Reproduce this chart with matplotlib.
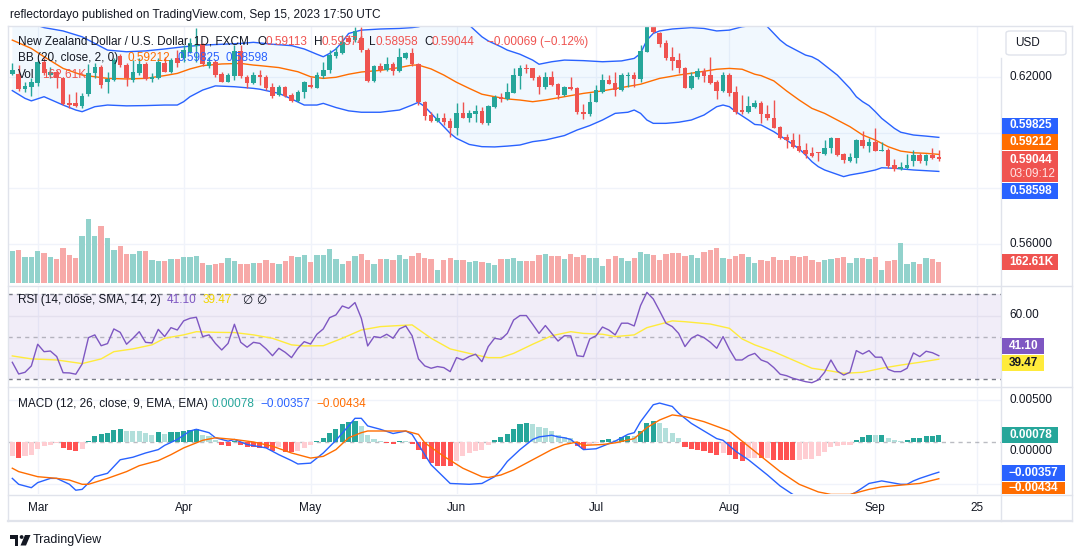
import numpy as np
import matplotlib
matplotlib.use("Agg")
import matplotlib.pyplot as plt
from matplotlib.patches import Rectangle, Ellipse, Polygon, FancyBboxPatch
from matplotlib.lines import Line2D

plt.rcParams['font.family'] = ['Liberation Sans', 'DejaVu Sans']

W, H = 1080, 557

# ---------------- data (NZD/USD daily, FXCM, 23 Feb - 15 Sep 2023) ----------------
opens = [0.62096, 0.62096, 0.61556, 0.61652, 0.61772, 0.62553, 0.62072, 0.62192, 0.61952, 0.61075,
         0.61075, 0.60955, 0.61375, 0.62132, 0.62349, 0.61832, 0.61892, 0.62769, 0.62433, 0.61892,
         0.62132, 0.62457, 0.61928, 0.61952, 0.62493, 0.62192, 0.62673, 0.62673, 0.62913, 0.63117,
         0.63177, 0.62409, 0.62553, 0.62096, 0.61832, 0.62048, 0.62937, 0.62012, 0.61772, 0.62072,
         0.62012, 0.61652, 0.61351, 0.61652, 0.61351, 0.61135, 0.61472, 0.61712, 0.61616, 0.62048,
         0.62252, 0.62769, 0.62853, 0.63394, 0.63333, 0.63394, 0.62973, 0.61856, 0.62396, 0.62252,
         0.62457, 0.62228, 0.62673, 0.62853, 0.62457, 0.61111, 0.60631, 0.60427, 0.60511, 0.60415,
         0.60150, 0.60691, 0.60535, 0.60679, 0.60775, 0.60331, 0.60931, 0.61291, 0.61207, 0.61436,
         0.62048, 0.62336, 0.62312, 0.62012, 0.61652, 0.62012, 0.61736, 0.61351, 0.61652, 0.61616,
         0.60727, 0.60655, 0.61111, 0.61472, 0.61892, 0.61772, 0.61532, 0.62036, 0.62072, 0.61928,
         0.62913, 0.63934, 0.63574, 0.63213, 0.62733, 0.62613, 0.62336, 0.61616, 0.62012, 0.62216,
         0.62072, 0.61832, 0.61496, 0.62072, 0.61472, 0.60811, 0.60727, 0.60931, 0.61075, 0.60667,
         0.60535, 0.60210, 0.59850, 0.59730, 0.59514, 0.59370, 0.59273, 0.59309, 0.59225, 0.59430,
         0.59790, 0.59225, 0.58973, 0.59093, 0.59730, 0.59526, 0.59670, 0.59346, 0.59370, 0.58829,
         0.58685, 0.58733, 0.58973, 0.59189, 0.58973, 0.59189, 0.59113]
highs = [0.62493, 0.62433, 0.61832, 0.61952, 0.62613, 0.62673, 0.62372, 0.62252, 0.61976, 0.61375,
         0.61472, 0.61412, 0.62457, 0.62493, 0.62433, 0.62192, 0.62673, 0.62817, 0.62493, 0.62613,
         0.62673, 0.62553, 0.62132, 0.62673, 0.62733, 0.62673, 0.62973, 0.63153, 0.63394, 0.63754,
         0.63213, 0.62733, 0.62613, 0.62192, 0.62132, 0.63153, 0.63153, 0.62072, 0.62192, 0.62252,
         0.62072, 0.61772, 0.61712, 0.61676, 0.61412, 0.61532, 0.61856, 0.62012, 0.62192, 0.62553,
         0.62973, 0.63093, 0.63514, 0.63514, 0.63814, 0.63814, 0.63033, 0.62433, 0.62493, 0.62733,
         0.62553, 0.63033, 0.62913, 0.63033, 0.62493, 0.61135, 0.60727, 0.60691, 0.60691, 0.60511,
         0.61051, 0.61087, 0.60811, 0.60991, 0.60931, 0.60991, 0.61351, 0.61412, 0.61772, 0.62312,
         0.62433, 0.62457, 0.62336, 0.62072, 0.62192, 0.62216, 0.61772, 0.61688, 0.62012, 0.61652,
         0.61015, 0.61412, 0.61712, 0.62096, 0.62072, 0.62192, 0.62132, 0.62192, 0.62192, 0.63153,
         0.64054, 0.64054, 0.63634, 0.63333, 0.63093, 0.62853, 0.62372, 0.62192, 0.62312, 0.62312,
         0.62733, 0.61892, 0.62192, 0.62132, 0.61676, 0.61351, 0.61327, 0.61171, 0.61135, 0.60991,
         0.61171, 0.60234, 0.59934, 0.59994, 0.59946, 0.59610, 0.59466, 0.59309, 0.59730, 0.59826,
         0.59814, 0.59249, 0.59249, 0.59766, 0.60054, 0.59790, 0.60174, 0.59670, 0.59430, 0.59033,
         0.58949, 0.59213, 0.59370, 0.59249, 0.59213, 0.59430, 0.59374]
lows = [0.62072, 0.61508, 0.61472, 0.61315, 0.61676, 0.62072, 0.61952, 0.61592, 0.60991, 0.60871,
        0.60931, 0.60871, 0.61327, 0.61952, 0.61592, 0.61412, 0.61856, 0.62372, 0.61688, 0.61832,
        0.62072, 0.61892, 0.61832, 0.61928, 0.62168, 0.62132, 0.62372, 0.62553, 0.62853, 0.62553,
        0.62409, 0.62312, 0.62012, 0.61808, 0.61808, 0.61892, 0.61952, 0.61592, 0.61736, 0.61712,
        0.61532, 0.61255, 0.61327, 0.61291, 0.61087, 0.61111, 0.61255, 0.61592, 0.61592, 0.61952,
        0.62132, 0.62673, 0.62817, 0.63213, 0.63273, 0.62913, 0.61808, 0.61832, 0.62192, 0.62228,
        0.62072, 0.62192, 0.62649, 0.62409, 0.60991, 0.60451, 0.60367, 0.60391, 0.60270, 0.59850,
        0.59910, 0.60511, 0.60391, 0.60391, 0.60294, 0.60270, 0.60871, 0.61111, 0.61171, 0.61412,
        0.61556, 0.62132, 0.61892, 0.61375, 0.61556, 0.61688, 0.61207, 0.61327, 0.61532, 0.60655,
        0.60487, 0.60607, 0.61087, 0.61412, 0.61736, 0.61327, 0.61508, 0.61652, 0.61652, 0.61832,
        0.62889, 0.63574, 0.63093, 0.62613, 0.62252, 0.62132, 0.61592, 0.61568, 0.61928, 0.61832,
        0.61736, 0.61207, 0.61472, 0.61327, 0.60655, 0.60655, 0.60691, 0.60871, 0.60354, 0.60451,
        0.60174, 0.59766, 0.59454, 0.59429, 0.59309, 0.59093, 0.59105, 0.58973, 0.59189, 0.59249,
        0.59165, 0.58889, 0.58949, 0.58889, 0.59430, 0.59309, 0.59334, 0.59334, 0.58709, 0.58625,
        0.58649, 0.58685, 0.58793, 0.58913, 0.58829, 0.59033, 0.58958]
closes = [0.62252, 0.61556, 0.61676, 0.61808, 0.62553, 0.62156, 0.62192, 0.61952, 0.61027, 0.60991,
          0.60967, 0.61315, 0.62156, 0.62349, 0.61712, 0.61928, 0.62613, 0.62433, 0.61952, 0.62192,
          0.62457, 0.61928, 0.62012, 0.62529, 0.62192, 0.62613, 0.62493, 0.62973, 0.63213, 0.63153,
          0.62457, 0.62553, 0.62072, 0.61832, 0.62072, 0.62937, 0.62048, 0.61772, 0.62072, 0.61988,
          0.61616, 0.61327, 0.61652, 0.61327, 0.61135, 0.61472, 0.61808, 0.61628, 0.62072, 0.62252,
          0.62793, 0.62913, 0.63273, 0.63273, 0.63658, 0.62973, 0.61856, 0.62396, 0.62252, 0.62457,
          0.62228, 0.62709, 0.62853, 0.62457, 0.61087, 0.60607, 0.60415, 0.60511, 0.60391, 0.60150,
          0.60691, 0.60535, 0.60691, 0.60775, 0.60331, 0.60955, 0.61291, 0.61207, 0.61472, 0.62072,
          0.62336, 0.62276, 0.61976, 0.61652, 0.62012, 0.61712, 0.61351, 0.61652, 0.61568, 0.60727,
          0.60679, 0.61111, 0.61529, 0.61892, 0.61748, 0.61532, 0.62072, 0.62072, 0.61928, 0.62937,
          0.63934, 0.63634, 0.63177, 0.62697, 0.62577, 0.62312, 0.61616, 0.62048, 0.62216, 0.62048,
          0.61772, 0.61496, 0.62072, 0.61412, 0.60727, 0.60751, 0.60955, 0.61075, 0.60655, 0.60511,
          0.60174, 0.59790, 0.59730, 0.59490, 0.59346, 0.59225, 0.59165, 0.59249, 0.59430, 0.59790,
          0.59189, 0.59009, 0.59105, 0.59730, 0.59526, 0.59670, 0.59346, 0.59370, 0.58805, 0.58685,
          0.58745, 0.58829, 0.59189, 0.58973, 0.59189, 0.59093, 0.59044]
volume_k = [250, 258, 204, 204, 250, 235, 204, 188, 273, 219,
            196, 366, 498, 366, 444, 351, 258, 289, 227, 227,
            245, 245, 181, 173, 173, 188, 188, 204, 204, 212,
            157, 142, 150, 157, 196, 173, 150, 150, 157, 157,
            181, 157, 150, 173, 212, 204, 219, 165, 219, 219,
            266, 188, 150, 173, 212, 227, 181, 150, 188, 188,
            181, 219, 188, 212, 235, 196, 188, 103, 181, 196,
            181, 181, 165, 173, 165, 157, 142, 188, 188, 196,
            173, 173, 173, 219, 227, 212, 212, 188, 227, 204,
            219, 196, 196, 134, 188, 212, 196, 173, 196, 243,
            227, 219, 181, 227, 235, 235, 212, 219, 196, 243,
            258, 273, 196, 188, 212, 227, 204, 157, 181, 173,
            204, 181, 181, 212, 204, 212, 181, 165, 181, 188,
            196, 204, 157, 196, 196, 188, 204, 103, 173, 181,
            312, 150, 165, 150, 196, 188, 162.61]

# Bollinger Bands (20, 2) at these bars
bb_upper_x = [0, 3, 5, 8, 11, 13, 15, 18, 21, 24, 27, 30, 33, 36, 38, 41, 44, 46, 48, 49,
              50, 51, 52, 53, 55, 58, 61, 63, 64, 66, 68, 70, 72, 74, 75, 77, 78, 80, 82, 83,
              85, 87, 90, 93, 96, 98, 99, 100, 101, 102, 104, 107, 109, 111, 113, 115, 117, 118, 119, 121,
              122, 124, 125, 126, 127, 128, 130, 131, 132, 133, 134, 135, 136, 137, 138, 139, 140, 141, 142, 144, 146]
bb_upper = [0.6411, 0.6393, 0.6378, 0.6366, 0.6345, 0.6321, 0.6297, 0.6291, 0.6294, 0.6301,
            0.6309, 0.6315, 0.6318, 0.6321, 0.6325, 0.6318, 0.6313, 0.6301, 0.6282, 0.6273,
            0.6285, 0.6301, 0.6327, 0.6357, 0.6369, 0.6373, 0.6375, 0.6378, 0.6381, 0.6393,
            0.6399, 0.6393, 0.6387, 0.6345, 0.6330, 0.6309, 0.6297, 0.6282, 0.6261, 0.6246,
            0.6255, 0.6261, 0.6259, 0.6255, 0.6258, 0.6267, 0.6285, 0.6333, 0.6357, 0.6366,
            0.6373, 0.6378, 0.6375, 0.6366, 0.6369, 0.6381, 0.6387, 0.6399, 0.6381, 0.6333,
            0.6315, 0.6291, 0.6279, 0.6273, 0.6261, 0.6243, 0.6207, 0.6183, 0.6159, 0.6129,
            0.6111, 0.6097, 0.6075, 0.6051, 0.6033, 0.6015, 0.6001, 0.5996, 0.5991, 0.5987, 0.59825]
bb_mid_x = [0, 3, 5, 8, 11, 13, 15, 18, 21, 24, 26, 28, 30, 33, 36, 38, 39, 42, 45, 47,
            49, 51, 53, 55, 58, 61, 63, 64, 66, 68, 70, 72, 74, 76, 78, 80, 82, 84, 87, 90,
            93, 96, 99, 102, 105, 108, 111, 113, 115, 117, 118, 120, 122, 124, 126, 128, 130, 132, 134, 136,
            138, 140, 142, 144, 146]
bb_mid = [0.6333, 0.6303, 0.6273, 0.6231, 0.6207, 0.6201, 0.6195, 0.6193, 0.6195, 0.6205,
          0.6213, 0.6229, 0.6241, 0.6247, 0.6249, 0.6243, 0.6241, 0.6234, 0.6219, 0.6201,
          0.6195, 0.6199, 0.6210, 0.6218, 0.6224, 0.6234, 0.6243, 0.6243, 0.6229, 0.6207,
          0.6181, 0.6159, 0.6138, 0.6129, 0.6121, 0.6117, 0.6111, 0.6117, 0.6129, 0.6141,
          0.6150, 0.6162, 0.6174, 0.6195, 0.6207, 0.6217, 0.6228, 0.6231, 0.6228, 0.6210,
          0.6205, 0.6186, 0.6150, 0.6117, 0.6087, 0.6069, 0.6045, 0.6021, 0.5991, 0.5973,
          0.5949, 0.5933, 0.5927, 0.5925, 0.59212]
bb_lower_x = [0, 2, 3, 5, 8, 10, 11, 13, 15, 18, 21, 24, 26, 27, 28, 30, 32, 35, 38, 39,
              42, 44, 46, 48, 49, 51, 53, 55, 58, 61, 63, 64, 65, 66, 67, 68, 69, 70, 72, 74,
              76, 78, 80, 82, 84, 87, 89, 91, 93, 95, 97, 98, 99, 100, 101, 103, 105, 107, 109, 111,
              112, 113, 114, 116, 117, 118, 120, 122, 124, 125, 126, 127, 128, 130, 131, 132, 134, 136, 137, 139,
              142, 146]
bb_lower = [0.6151, 0.6123, 0.6114, 0.6129, 0.6099, 0.6081, 0.6075, 0.6093, 0.6099, 0.6096,
            0.6097, 0.6099, 0.6099, 0.6111, 0.6129, 0.6153, 0.6168, 0.6165, 0.6159, 0.6156,
            0.6141, 0.6121, 0.6099, 0.6099, 0.6105, 0.6090, 0.6078, 0.6073, 0.6073, 0.6081,
            0.6099, 0.6109, 0.6093, 0.6069, 0.6045, 0.6021, 0.5997, 0.5979, 0.5957, 0.5949,
            0.5948, 0.5951, 0.5955, 0.5967, 0.5973, 0.5989, 0.6009, 0.6025, 0.6045, 0.6069,
            0.6073, 0.6081, 0.6069, 0.6045, 0.6033, 0.6033, 0.6037, 0.6045, 0.6063, 0.6093,
            0.6099, 0.6093, 0.6075, 0.6045, 0.6029, 0.6027, 0.6003, 0.5973, 0.5941, 0.5919,
            0.5895, 0.5877, 0.5865, 0.5849, 0.5841, 0.5847, 0.5855, 0.5865, 0.5873, 0.5871,
            0.5865, 0.58598]

# RSI (14) per bar and its 14-period SMA
rsi = [38.0, 32.5, 33.3, 36.3, 46.5, 43.0, 43.3, 40.7, 33.1, 33.0,
       32.4, 37.2, 49.6, 50.9, 45.8, 46.8, 53.7, 52.1, 46.5, 49.3,
       52.4, 47.4, 47.1, 53.5, 50.1, 54.3, 53.2, 57.5, 58.7, 59.2,
       50.1, 50.9, 46.9, 43.8, 46.9, 55.9, 47.4, 45.1, 47.4, 46.9,
       44.3, 41.1, 44.6, 42.7, 40.2, 44.6, 47.7, 46.6, 51.2, 53.7,
       59.0, 60.3, 64.5, 63.4, 66.1, 58.7, 45.7, 50.1, 49.6, 51.2,
       49.3, 53.7, 55.1, 50.5, 39.6, 36.3, 35.2, 36.0, 35.5, 33.6,
       40.2, 39.1, 40.7, 41.8, 38.3, 45.4, 49.3, 48.8, 51.6, 57.9,
       60.0, 60.0, 55.9, 51.6, 55.3, 51.6, 48.0, 50.5, 50.4, 41.1,
       40.7, 49.0, 50.5, 54.6, 53.2, 50.9, 56.4, 56.4, 55.1, 64.7,
       70.9, 67.8, 62.2, 56.4, 54.8, 51.6, 45.4, 49.3, 50.9, 49.6,
       47.4, 44.6, 50.1, 44.1, 39.1, 39.1, 41.1, 42.2, 39.1, 38.0,
       35.5, 32.4, 31.7, 30.5, 29.7, 28.9, 28.4, 29.7, 33.3, 39.1,
       33.9, 32.0, 33.3, 43.5, 41.9, 43.5, 40.4, 40.4, 34.7, 33.6,
       33.6, 35.2, 42.4, 40.7, 43.2, 42.5, 41.1]
rsi_ma_x = [0, 3, 7, 11, 14, 16, 19, 22, 24, 27, 29, 32, 35, 38, 41, 44, 46, 49, 52, 55,
            58, 61, 63, 66, 69, 72, 75, 77, 79, 82, 85, 88, 90, 93, 95, 98, 100, 104, 106, 110,
            113, 115, 117, 120, 123, 126, 129, 131, 134, 137, 140, 143, 146]
rsi_ma = [41.0, 39.6, 39.1, 37.4, 39.6, 43.0, 44.3, 46.2, 49.3, 50.9,
          52.4, 52.1, 52.0, 50.9, 49.3, 46.2, 45.7, 45.8, 49.3, 53.2,
          54.8, 55.3, 55.6, 49.3, 44.3, 42.2, 40.2, 40.2, 42.2, 46.5,
          50.5, 52.4, 51.6, 51.2, 50.1, 50.9, 54.3, 57.5, 57.1, 56.0,
          54.0, 49.0, 46.2, 43.0, 39.1, 35.2, 33.9, 32.8, 33.3, 35.2,
          36.7, 38.0, 39.47]

# MACD (12, 26, 9)
macd_x = [0, 1, 3, 4, 6, 7, 9, 10, 11, 13, 15, 17, 19, 21, 23, 24, 26, 28, 29, 31,
          32, 34, 35, 37, 40, 42, 44, 45, 47, 49, 51, 53, 54, 55, 56, 58, 60, 62, 63, 64,
          66, 69, 72, 74, 76, 77, 78, 80, 82, 83, 85, 86, 87, 88, 90, 92, 93, 95, 97, 98,
          99, 100, 101, 102, 104, 105, 107, 109, 111, 112, 114, 116, 117, 119, 121, 123, 126, 129, 131, 133,
          135, 137, 140, 141, 142, 143, 145, 146]
macd_line = [-0.0043, -0.0050, -0.0054, -0.0048, -0.0043, -0.0043, -0.0050, -0.0057, -0.0056, -0.0041,
             -0.0037, -0.0021, -0.0018, -0.0013, -0.0009, -0.0004, 0.0003, 0.0013, 0.0015, 0.0011,
             0.0005, 0.0001, 0.0003, -0.0003, -0.0007, -0.0015, -0.0022, -0.0026, -0.0025, -0.0013,
             0.0002, 0.0019, 0.0028, 0.0028, 0.0019, 0.0015, 0.0010, 0.0013, 0.0009, -0.0003,
             -0.0027, -0.0049, -0.0050, -0.0049, -0.0041, -0.0033, -0.0023, -0.0009, 0.0003, 0.0006,
             0.0008, 0.0006, 0.0005, 0.0003, -0.0009, -0.0008, -0.0005, 0.0001, 0.0009, 0.0011,
             0.0024, 0.0034, 0.0044, 0.0046, 0.0042, 0.0034, 0.0022, 0.0013, 0.0004, 0.0002,
             -0.0011, -0.0021, -0.0027, -0.0039, -0.0052, -0.0062, -0.0070, -0.0071, -0.0067, -0.0059,
             -0.0049, -0.0046, -0.0050, -0.0050, -0.0046, -0.0043, -0.0038, -0.00357]
signal_x = [0, 1, 4, 7, 9, 11, 12, 15, 18, 20, 23, 25, 27, 30, 32, 35, 38, 41, 44, 47,
            49, 51, 53, 55, 56, 59, 62, 64, 65, 68, 71, 74, 75, 77, 79, 82, 85, 87, 89, 90,
            93, 95, 98, 100, 102, 104, 106, 109, 113, 115, 118, 121, 124, 127, 129, 132, 135, 137, 140, 143, 146]
signal_line = [-0.0031, -0.0035, -0.0041, -0.0043, -0.0045, -0.0050, -0.0050, -0.0043, -0.0035, -0.0028,
               -0.0022, -0.0015, -0.0007, 0.0002, 0.0005, 0.0003, 0.0000, -0.0005, -0.0013, -0.0019,
               -0.0017, -0.0009, 0.0005, 0.0011, 0.0013, 0.0013, 0.0013, 0.0009, -0.0001, -0.0017,
               -0.0031, -0.0041, -0.0042, -0.0039, -0.0033, -0.0021, -0.0009, -0.0003, 0.0000, -0.0004,
               -0.0003, -0.0001, 0.0004, 0.0017, 0.0026, 0.0032, 0.0030, 0.0024, 0.0013, 0.0001,
               -0.0017, -0.0035, -0.0050, -0.0059, -0.0062, -0.0062, -0.0056, -0.0053, -0.0051, -0.0049,
               -0.00434]
macd_hist = [-0.00169, -0.00189, -0.00162, -0.0015, -0.00083, -0.00051, -0.00032, -0.00012, -0.00071, -0.00091,
             -0.00102, -0.00079, 0.00016, 0.00075, 0.00095, 0.00106, 0.00146, 0.00154, 0.00134, 0.00134,
             0.00134, 0.00106, 0.00087, 0.00114, 0.00099, 0.00114, 0.00118, 0.00134, 0.00146, 0.00158,
             0.00087, 0.00067, 0.00028, -0.00032, -0.00051, 0.00008, -0.00032, -0.00063, -0.00063, -0.00071,
             -0.00071, -0.0011, -0.00063, -0.00118, -0.00122, -0.00102, -0.00071, -0.00039, 0.00016, 0.00047,
             0.00106, 0.00158, 0.00213, 0.00232, 0.00244, 0.00185, 0.00087, 0.00039, 0.00016, -0.00016,
             -0.00024, 0.00016, 0.00008, -0.00024, -0.00091, -0.00197, -0.00248, -0.0028, -0.0028, -0.0028,
             -0.00229, -0.00169, -0.0013, -0.00102, -0.00098, -0.00039, 0.00028, 0.00057, 0.00097, 0.00154,
             0.00217, 0.00225, 0.00217, 0.00177, 0.00165, 0.00134, 0.00087, 0.00055, 0.00047, -0.00051,
             -0.00083, -0.00032, -0.00012, 0.0002, 0.00035, 0.00028, 0.00059, 0.00075, 0.00067, 0.00134,
             0.00225, 0.00252, 0.00225, 0.00165, 0.00106, 0.00047, -0.00059, -0.00083, -0.00091, -0.00102,
             -0.0013, -0.0015, -0.0013, -0.0015, -0.00197, -0.00221, -0.00195, -0.00185, -0.0019, -0.00188,
             -0.00209, -0.00212, -0.00215, -0.00218, -0.00217, -0.00201, -0.00197, -0.00162, -0.00118, -0.00059,
             -0.00045, -0.0004, -0.00032, 0.00028, 0.00055, 0.00079, 0.00077, 0.0008, 0.00047, 0.00024,
             0.00014, 0.00018, 0.00045, 0.00049, 0.00067, 0.00076, 0.00078]

month_pos = [4, 27, 47, 70, 92, 113, 136, 152]
month_labels = ["Mar", "Apr", "May", "Jun", "Jul", "Aug", "Sep", "25"]

# ---------------- style ----------------
GREEN, RED = '#26A69A', '#EF5350'
BLUE, ORANGE = '#2962FF', '#FF6D00'
PURPLE, YELLOW = '#7E57C2', '#FFEB3B'
TXT, GRID, SEP = '#131722', '#F0F3FA', '#E0E3EB'
FS = 8.5

fig = plt.figure(figsize=(W / 100, H / 100), dpi=100)
fig.patch.set_facecolor('white')


def fx(px):
    return px / W


def fy(py):
    return 1 - py / H


def pane(y0, y1, ylim):
    ax = fig.add_axes([fx(8), fy(y1), fx(1001) - fx(8), (y1 - y0) / H])
    ax.set_xlim(-0.68, 155.8)
    ax.set_ylim(*ylim)
    for s in ax.spines.values():
        s.set_visible(False)
    ax.tick_params(left=False, bottom=False, labelleft=False, labelbottom=False)
    for m in month_pos:
        ax.axvline(m, color=GRID, lw=1, zorder=0)
    return ax


x = np.arange(len(closes))
o, h, l, c = map(np.array, (opens, highs, lows, closes))
up = c >= o
cols = np.where(up, GREEN, RED)

# ---- price pane ----
ax_p = pane(27, 285, (0.54505, 0.63802))
for g in [0.62, 0.60, 0.58, 0.56]:
    ax_p.axhline(g, color=GRID, lw=1, zorder=0)
ax_p.fill(np.concatenate([bb_upper_x, bb_lower_x[::-1]]),
          np.concatenate([bb_upper, bb_lower[::-1]]),
          color='#2196F3', alpha=0.06, lw=0, zorder=1)
ax_p.plot(bb_upper_x, bb_upper, color=BLUE, lw=1, zorder=2)
ax_p.plot(bb_lower_x, bb_lower, color=BLUE, lw=1, zorder=2)
ax_p.plot(bb_mid_x, bb_mid, color=ORANGE, lw=1, zorder=2)
ax_p.vlines(x, l, h, colors=cols, lw=1, zorder=3)
ax_p.bar(x, np.maximum(np.abs(c - o), 0.00005), bottom=np.minimum(o, c),
         width=0.72, color=cols, lw=0, zorder=4)

ax_v = ax_p.twinx()
ax_v.set_ylim(-15.5, 1982.5)
ax_v.bar(x, volume_k, width=0.84, color=np.where(up, '#92D2CC', '#F7A9A8'), lw=0)
ax_v.axis('off')
ax_p.tick_params(left=False, right=False, labelleft=False, labelright=False)

# ---- RSI pane ----
ax_r = pane(286, 386, (26.85, 73.9))
ax_r.axhspan(30, 70, color=PURPLE, alpha=0.1, lw=0, zorder=0)
for g in [60, 40]:
    ax_r.axhline(g, color='#E4E0EE', lw=1, zorder=0.5)
ax_r.axhline(70, color='#787B86', lw=1, ls=(0, (3, 3)), zorder=1)
ax_r.axhline(30, color='#787B86', lw=1, ls=(0, (3, 3)), zorder=1)
ax_r.axhline(50, color='#787B86', alpha=0.5, lw=1, ls=(0, (3, 3)), zorder=1)
ax_r.plot(rsi_ma_x, rsi_ma, color=YELLOW, lw=1, zorder=2)
ax_r.plot(x, rsi, color=PURPLE, lw=1, zorder=3)

# ---- MACD pane ----
ax_m = pane(387, 494, (-0.006147, 0.0065))
for g in [0.005, -0.005]:
    ax_m.axhline(g, color=GRID, lw=1, zorder=0)
ax_m.axhline(0, color='#787B86', alpha=0.5, lw=1, ls=(0, (3, 3)), zorder=1)
hist_cols = []
for k, v in enumerate(macd_hist):
    prev = macd_hist[k - 1] if k else -0.0020
    if v >= 0:
        hist_cols.append('#26A69A' if v > prev else '#B2DFDB')
    else:
        hist_cols.append('#FFCDD2' if v > prev else '#FF5252')
ax_m.bar(x, macd_hist, width=0.8, color=hist_cols, lw=0, zorder=2)
ax_m.plot(macd_x, macd_line, color=BLUE, lw=1, zorder=3)
ax_m.plot(signal_x, signal_line, color=ORANGE, lw=1, zorder=3)
ax_m.set_xticks(month_pos, month_labels)
ax_m.tick_params(axis='x', bottom=False, labelbottom=True, length=0, pad=5.5,
                 labelsize=FS, labelcolor=TXT)

# ---------------- frame lines ----------------
def hline(y, x0=8, x1=1072, lw=1.0):
    fig.add_artist(Line2D([fx(x0), fx(x1)], [fy(y), fy(y)], color=SEP, lw=lw))


def vline(xp, y0, y1, lw=1.0):
    fig.add_artist(Line2D([fx(xp), fx(xp)], [fy(y0), fy(y1)], color=SEP, lw=lw))


hline(26)
hline(285.5)
hline(386.5)
hline(494.5)
hline(521, lw=1.6)
vline(8, 26, 521)
vline(1072, 26, 521)
vline(1001, 58, 521)


# ---------------- texts ----------------
def txt(xp, yp, s, color=TXT, size=FS, **kw):
    fig.text(fx(xp), fy(yp), s, color=color, fontsize=size, va='center', ha='left', **kw)


txt(10, 15, "reflectordayo published on TradingView.com, Sep 15, 2023 17:50 UTC", size=8.6)

txt(18, 42, "New Zealand Dollar / U.S. Dollar, 1D, FXCM")
for lab, xl, val, xv in [("O", 258, "0.59113", 266), ("H", 314, "0.59374", 322),
                         ("L", 369, "0.58958", 375), ("C", 424, "0.59044", 432)]:
    txt(xl, 42, lab)
    txt(xv, 42, val, color=RED)
txt(487, 42, "\u22120.00069 (\u22120.12%)", color=RED)
txt(18, 58, "BB (20, close, 2, 0)")
txt(128, 58, "0.59212", color=ORANGE)
txt(177, 58, "0.59825", color=BLUE)
txt(226, 58, "0.58598", color=BLUE)
txt(18, 75, "Vol")
txt(42, 75, "162.61K", color=RED)

txt(18, 300, "RSI (14, close, SMA, 14, 2)")
txt(167, 300, "41.10", color=PURPLE)
txt(203, 300, "39.47", color='#F2D600')
txt(242, 300, "\u2205", family=['DejaVu Sans'])
txt(256, 300, "\u2205", family=['DejaVu Sans'])

txt(18, 404, "MACD (12, 26, close, 9, EMA, EMA)")
txt(212, 404, "0.00078", color=GREEN)
txt(260, 404, "\u22120.00357", color=BLUE)
txt(316, 404, "\u22120.00434", color=ORANGE)

# right scale labels
for s, yp in [("0.62000", 77), ("0.56000", 244), ("60.00", 315), ("0.00500", 400), ("0.00000", 451)]:
    txt(1009, yp, s)


def tag(y0, y1, s, fc, tc='white', s2=None):
    w = 7 * len(s) + 7
    fig.add_artist(Rectangle((fx(1002), fy(y1)), w / W, (y1 - y0) / H,
                             transform=fig.transFigure, facecolor=fc, edgecolor='none', zorder=5))
    if s2 is None:
        fig.text(fx(1009), fy((y0 + y1) / 2), s, color=tc, fontsize=FS, fontweight='bold',
                 va='center', ha='left', zorder=6)
    else:
        fig.text(fx(1009), fy(y0 + 8.5), s, color=tc, fontsize=FS, fontweight='bold',
                 va='center', ha='left', zorder=6)
        fig.text(fx(1009), fy(y0 + 23), s2, color='#FFE3E3', fontsize=FS,
                 va='center', ha='left', zorder=6)


tag(117.5, 133.5, "0.59825", BLUE)
tag(134, 150, "0.59212", ORANGE)
tag(151, 182, "0.59044", RED, s2="03:09:12")
tag(182.5, 198.5, "0.58598", BLUE)
tag(254, 270, "162.61K", RED)
tag(338, 354, "41.10", PURPLE)
tag(355, 371, "39.47", YELLOW, tc=TXT)
tag(427, 443, "0.00078", GREEN)
tag(465, 481, "\u22120.00357", BLUE)
tag(482, 494, "\u22120.00434", ORANGE)

# USD button
fig.add_artist(FancyBboxPatch((fx(1006), fy(55)), fx(60), 24 / H,
                              boxstyle="round,pad=0,rounding_size=0.004",
                              transform=fig.transFigure, facecolor='white',
                              edgecolor=SEP, lw=1))
txt(1015, 43.5, "USD")

# TradingView logo
for patch in [Rectangle((fx(10), fy(538.5)), fx(8.5), 3.5 / H),
              Rectangle((fx(14.5), fy(545.5)), fx(3.5), 10.5 / H),
              Ellipse((fx(21.6), fy(537)), fx(3.8), 3.8 / H),
              Polygon([(fx(25), fy(535)), (fx(30.5), fy(535)), (fx(26), fy(545.5)), (fx(20.5), fy(545.5))])]:
    patch.set_transform(fig.transFigure)
    patch.set_facecolor(TXT)
    patch.set_edgecolor('none')
    fig.add_artist(patch)
txt(33, 540, "TradingView", size=9)

fig.savefig("out.png", dpi=100, facecolor='white')
